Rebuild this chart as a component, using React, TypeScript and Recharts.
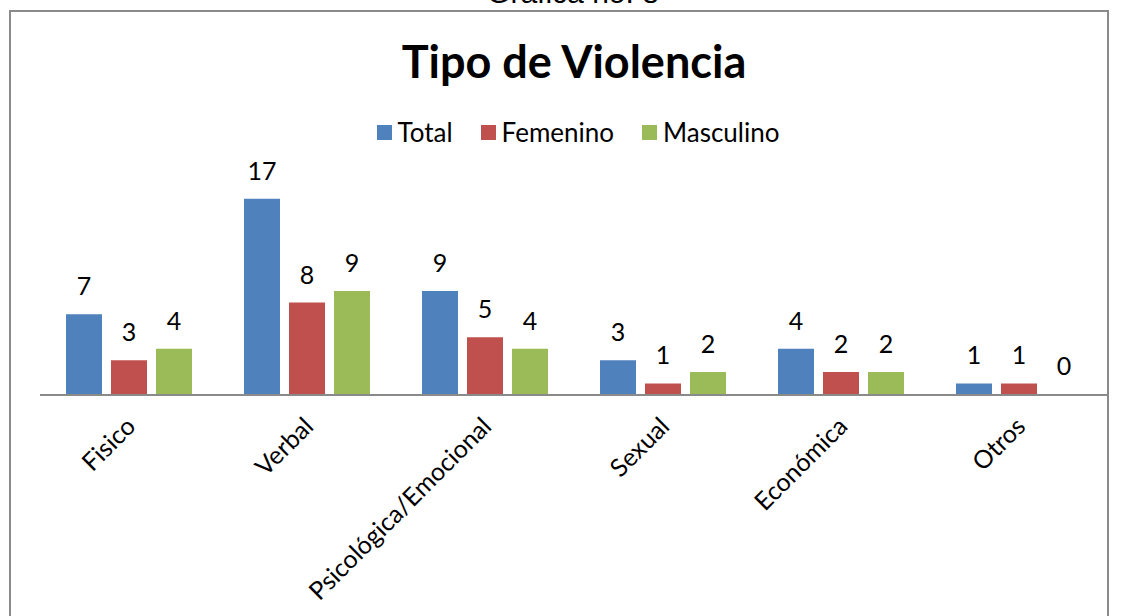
import React from "react";
import { BarChart, Bar, XAxis, YAxis, Legend, LabelList } from "recharts";

const categories = ["Fisico", "Verbal", "Psicológica/Emocional", "Sexual", "Económica", "Otros"];
const totalValues = [7, 17, 9, 3, 4, 1];
const femeninoValues = [3, 8, 5, 1, 2, 1];
const masculinoValues = [4, 9, 4, 2, 2, 0];
const seriesNames = ["Total", "Femenino", "Masculino"];
const seriesColors = ["#4F81BD", "#C0504D", "#9BBB59"];

const data = categories.map((c, i) => ({
  name: c,
  Total: totalValues[i],
  Femenino: femeninoValues[i],
  Masculino: masculinoValues[i],
}));

const FONT = "Lato, 'Open Sans', sans-serif";

const Tick = (props: any) => {
  const { x, y, payload } = props;
  return (
    <g transform={`translate(${x + 8},${y + 25})`}>
      <text textAnchor="end" transform="rotate(-45)" fontSize={25} fontFamily={FONT} fill="#000">
        {payload.value}
      </text>
    </g>
  );
};

const renderValue = (props: any) => {
  const { x, y, width, height, value } = props;
  const top = Number(y) + Math.min(0, Number(height));
  return (
    <text
      x={Number(x) + Number(width) / 2}
      y={top - 19}
      textAnchor="middle"
      fontSize={25}
      fontFamily={FONT}
      fill="#000"
    >
      {value}
    </text>
  );
};

const LegendContent = () => (
  <div style={{ display: "flex", justifyContent: "center", alignItems: "center", fontFamily: FONT, fontSize: 26, color: "#000" }}>
    {seriesNames.map((n, i) => (
      <div key={n} style={{ display: "flex", alignItems: "center", marginRight: i < seriesNames.length - 1 ? 28 : 0 }}>
        <span style={{ display: "inline-block", width: 15, height: 15, background: seriesColors[i], marginRight: 6 }} />
        <span>{n}</span>
      </div>
    ))}
  </div>
);

export default function App() {
  return (
    <div style={{ position: "absolute", left: 0, top: 0, width: 1124, height: 616, background: "#fff", overflow: "hidden" }}>
      <div
        style={{
          position: "absolute",
          left: 0,
          width: 1146,
          top: -24,
          textAlign: "center",
          fontFamily: "'Liberation Sans', Arial, sans-serif",
          fontSize: 30,
          color: "#000",
          whiteSpace: "nowrap",
        }}
      >
        Gráfica no. 8
      </div>
      <div
        style={{
          position: "absolute",
          left: 9,
          top: 10,
          width: 1100,
          height: 640,
          border: "2px solid #8a8a8a",
          boxSizing: "border-box",
        }}
      />
      <div
        style={{
          position: "absolute",
          left: 0,
          width: 1148,
          top: 34,
          textAlign: "center",
          fontFamily: FONT,
          fontWeight: 700,
          fontSize: 45,
          color: "#000",
        }}
      >
        Tipo de Violencia
      </div>
      <div style={{ position: "absolute", left: 0, top: 0 }}>
        <BarChart
          width={1124}
          height={616}
          data={data}
          margin={{ top: 164, right: 16, bottom: 71, left: 40 }}
          barGap={9}
          barCategoryGap={26}
        >
          <YAxis hide domain={[0, 20]} />
          <Legend
            layout="horizontal"
            verticalAlign="middle"
            align="center"
            content={<LegendContent />}
            wrapperStyle={{ top: 116, left: 0, width: 1156 }}
          />
          {seriesNames.map((n, i) => (
            <Bar key={n} dataKey={n} fill={seriesColors[i]} minPointSize={1} isAnimationActive={false}>
              <LabelList dataKey={n} content={renderValue} />
            </Bar>
          ))}
          <XAxis
            dataKey="name"
            height={150}
            tickLine={false}
            axisLine={{ stroke: "#8a8a8a", strokeWidth: 2 }}
            interval={0}
            tick={<Tick />}
          />
        </BarChart>
      </div>
    </div>
  );
}
